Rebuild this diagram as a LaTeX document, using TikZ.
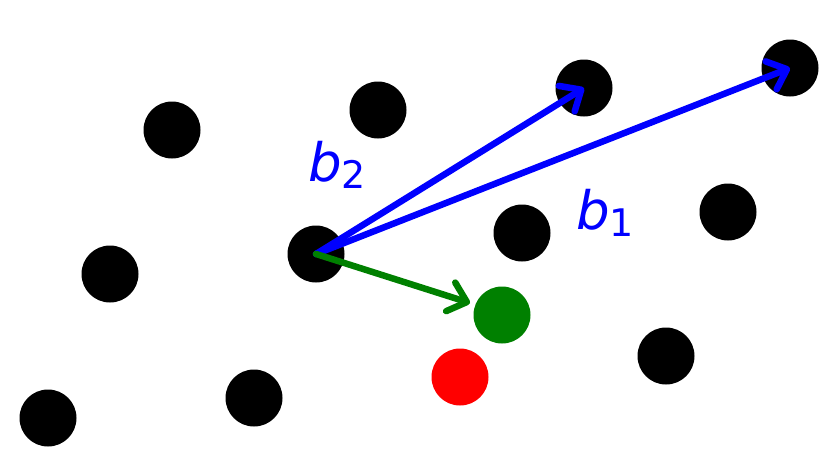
\documentclass[tikz,border=0pt]{standalone}
\usepackage{fontspec}
\newfontfamily\djs{DejaVu Sans}
\usetikzlibrary{arrows.meta}
\begin{document}
\begin{tikzpicture}[x=1pt,y=-1pt,
  dot/.style={circle,fill=black,minimum size=57pt,inner sep=0pt},
  vec/.style={line width=6.5pt,line cap=round,-{Straight Barb[length=17pt 0 0,width=30pt 0 0,round]}},
  lbl/.style={text=blue,inner sep=0pt}]
\useasboundingbox (0,0) rectangle (840,467);
\node[dot] (d1) at (172,130) {};
\node[dot] (d2) at (378,110) {};
\node[dot] (d3) at (584,88) {};
\node[dot] (d4) at (790,68) {};
\node[dot] (d5) at (110,274) {};
\node[dot] (o) at (316,254) {};
\node[dot] (d7) at (522,233) {};
\node[dot] (d8) at (728,212) {};
\node[dot] (d9) at (48,418) {};
\node[dot] (d10) at (254,398) {};
\node[dot] (d11) at (666,356) {};
\node[dot,fill={rgb,255:red,0;green,128;blue,0}] (g) at (502,315) {};
\node[dot,fill=red] (r) at (460,377) {};
\coordinate (gt) at (470,303);
\draw[vec,blue] (o.center) -- (d3.center);
\draw[vec,blue] (o.center) -- (d4.center);
\draw[vec,color={rgb,255:red,0;green,128;blue,0}] (o.center) -- (gt);
\node[lbl,anchor=base west] (b2) at (308,181) {{\djs\fontsize{53}{53}\selectfont\itshape b}{\djs\fontsize{38}{38}\selectfont\raisebox{-7pt}{2}}};
\node[lbl,anchor=base west] (b1) at (576,229) {{\djs\fontsize{53}{53}\selectfont\itshape b}{\djs\fontsize{38}{38}\selectfont\raisebox{-7pt}{1}}};
\end{tikzpicture}
\end{document}
